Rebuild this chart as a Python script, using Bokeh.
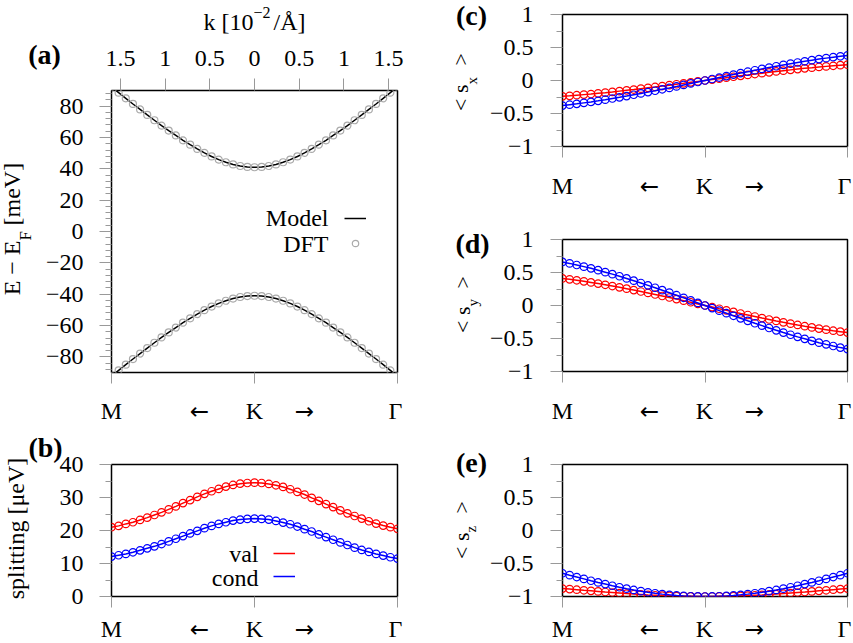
import math
from bokeh.plotting import figure
from bokeh.layouts import column
from bokeh.models import Range1d, FixedTicker, LinearAxis, Label, Legend, LegendItem, GridBox
from bokeh.embed import file_html
from bokeh.resources import INLINE

SERIF = "Liberation Serif"
TICK_COLOR = "#999999"
RED = "#ff0000"
BLUE = "#0000ff"

# ---------------- data ----------------
k = [-1.6, -1.52, -1.44, -1.36, -1.28, -1.2, -1.12, -1.04, -0.96, -0.88, -0.8,
     -0.72, -0.64, -0.56, -0.48, -0.4, -0.32, -0.24, -0.16, -0.08, 0.0,
     0.08, 0.16, 0.24, 0.32, 0.4, 0.48, 0.56, 0.64, 0.72, 0.8,
     0.88, 0.96, 1.04, 1.12, 1.2, 1.28, 1.36, 1.44, 1.52, 1.6]

# (a) bands [meV]
e_cond = [92.3, 88.6, 85.0, 81.4, 77.9, 74.4, 71.0, 67.6, 64.4, 61.3, 58.2,
          55.4, 52.7, 50.2, 47.9, 45.9, 44.2, 42.8, 41.8, 41.2, 41.0,
          41.2, 41.8, 42.8, 44.2, 45.9, 47.9, 50.2, 52.7, 55.4, 58.2,
          61.3, 64.4, 67.6, 71.0, 74.4, 77.9, 81.4, 85.0, 88.6, 92.3]
e_val = [-92.3, -88.6, -85.0, -81.4, -77.9, -74.4, -71.0, -67.6, -64.4, -61.3, -58.2,
         -55.4, -52.7, -50.2, -47.9, -45.9, -44.2, -42.8, -41.8, -41.2, -41.0,
         -41.2, -41.8, -42.8, -44.2, -45.9, -47.9, -50.2, -52.7, -55.4, -58.2,
         -61.3, -64.4, -67.6, -71.0, -74.4, -77.9, -81.4, -85.0, -88.6, -92.3]

# (b) splitting [ueV]
split_val = [21.0, 21.4, 22.0, 22.5, 23.2, 23.9, 24.7, 25.5, 26.4, 27.3, 28.3,
             29.2, 30.2, 31.1, 31.9, 32.6, 33.3, 33.8, 34.2, 34.4, 34.5,
             34.4, 34.1, 33.7, 33.2, 32.5, 31.7, 30.9, 29.9, 29.0, 28.0,
             27.1, 26.1, 25.2, 24.4, 23.6, 22.8, 22.1, 21.5, 21.0, 20.5]
split_cond = [12.1, 12.5, 12.9, 13.4, 14.0, 14.6, 15.2, 15.9, 16.7, 17.5, 18.3,
              19.1, 19.9, 20.7, 21.4, 22.0, 22.5, 23.0, 23.3, 23.5, 23.6,
              23.5, 23.3, 22.9, 22.4, 21.9, 21.2, 20.4, 19.7, 18.8, 18.0,
              17.2, 16.4, 15.6, 14.8, 14.1, 13.5, 12.9, 12.4, 11.9, 11.5]

# (c) <s_x>
sx_val = [-0.240, -0.232, -0.223, -0.214, -0.205, -0.194, -0.184, -0.173, -0.161, -0.149, -0.137,
          -0.124, -0.111, -0.098, -0.084, -0.071, -0.057, -0.043, -0.028, -0.014, 0.0,
          0.014, 0.028, 0.043, 0.057, 0.071, 0.084, 0.098, 0.111, 0.124, 0.137,
          0.149, 0.161, 0.173, 0.184, 0.194, 0.205, 0.214, 0.223, 0.232, 0.240]
sx_cond = [-0.380, -0.367, -0.354, -0.339, -0.324, -0.308, -0.291, -0.273, -0.255, -0.236, -0.216,
           -0.196, -0.176, -0.155, -0.133, -0.112, -0.090, -0.067, -0.045, -0.023, 0.0,
           0.023, 0.045, 0.067, 0.090, 0.112, 0.133, 0.155, 0.176, 0.196, 0.216,
           0.236, 0.255, 0.273, 0.291, 0.308, 0.324, 0.339, 0.354, 0.367, 0.380]

# (d) <s_y>
sy_val = [0.410, 0.396, 0.382, 0.366, 0.350, 0.332, 0.314, 0.295, 0.275, 0.255, 0.234,
          0.212, 0.190, 0.167, 0.144, 0.121, 0.097, 0.073, 0.049, 0.024, 0.0,
          -0.024, -0.049, -0.073, -0.097, -0.121, -0.144, -0.167, -0.190, -0.212, -0.234,
          -0.255, -0.275, -0.295, -0.314, -0.332, -0.350, -0.366, -0.382, -0.396, -0.410]
sy_cond = [0.660, 0.638, 0.614, 0.589, 0.563, 0.535, 0.505, 0.475, 0.443, 0.410, 0.376,
           0.341, 0.305, 0.269, 0.232, 0.194, 0.156, 0.117, 0.078, 0.039, 0.0,
           -0.039, -0.078, -0.117, -0.156, -0.194, -0.232, -0.269, -0.305, -0.341, -0.376,
           -0.410, -0.443, -0.475, -0.505, -0.535, -0.563, -0.589, -0.614, -0.638, -0.660]

# (e) <s_z>
sz_val = [-0.880, -0.888, -0.897, -0.906, -0.914, -0.923, -0.932, -0.940, -0.948, -0.956, -0.963,
          -0.969, -0.976, -0.981, -0.986, -0.990, -0.994, -0.996, -0.998, -1.000, -1.000,
          -1.000, -0.998, -0.996, -0.994, -0.990, -0.986, -0.981, -0.976, -0.969, -0.963,
          -0.956, -0.948, -0.940, -0.932, -0.923, -0.914, -0.906, -0.897, -0.888, -0.880]
sz_cond = [-0.648, -0.677, -0.705, -0.733, -0.761, -0.787, -0.812, -0.837, -0.860, -0.881, -0.901,
           -0.919, -0.936, -0.951, -0.964, -0.975, -0.984, -0.991, -0.996, -0.999, -1.000,
           -0.999, -0.996, -0.991, -0.984, -0.975, -0.964, -0.951, -0.936, -0.919, -0.901,
           -0.881, -0.860, -0.837, -0.812, -0.787, -0.761, -0.733, -0.705, -0.677, -0.648]

path_labels = ["M", "\u2190", "K", "\u2192", "\u0393"]
path_marks = [-1.6, 0.0, 1.6]

k_ticks = [-1.5, -1.0, -0.5, 0.0, 0.5, 1.0, 1.5]
k_labels = ["1.5", "1", "0.5", "0", "0.5", "1", "1.5"]


def fmt(v):
    return ("%g" % v).replace("-", "\u2212")


def make_fig(width, height, ylo, yhi, bl, br, bt, bb):
    p = figure(width=width, height=height,
               x_range=Range1d(-1.6, 1.6), y_range=Range1d(ylo, yhi),
               output_backend="svg", toolbar_location=None,
               x_axis_location=None, y_axis_location=None,
               min_border_left=bl, min_border_right=br,
               min_border_top=bt, min_border_bottom=bb)
    p.grid.grid_line_color = None
    p.outline_line_color = "black"
    p.outline_line_width = 1.5
    p.background_fill_color = "white"
    p.border_fill_color = "white"
    return p


def style_axis(ax):
    ax.axis_line_color = None
    ax.major_tick_line_color = TICK_COLOR
    ax.minor_tick_line_color = TICK_COLOR
    ax.major_tick_in = 0
    ax.minor_tick_in = 0
    ax.major_label_text_font = SERIF
    ax.major_label_text_font_size = "24px"
    ax.major_label_text_color = "black"


def add_bottom(p):
    # tick marks at M, K, Gamma (their labels are set as text on the overlay)
    ax = LinearAxis(ticker=FixedTicker(ticks=[], minor_ticks=path_marks))
    style_axis(ax)
    ax.major_tick_out = 0
    ax.minor_tick_out = 11
    p.add_layout(ax, "below")


def add_left(p, majors, minors, standoff):
    ax = LinearAxis(ticker=FixedTicker(ticks=majors, minor_ticks=minors),
                    major_label_overrides={t: fmt(t) for t in majors})
    style_axis(ax)
    ax.major_tick_out = 12
    ax.minor_tick_out = 6
    ax.major_label_standoff = standoff
    p.add_layout(ax, "left")


def add_text(p, text, x, y, size="24px", align="center", baseline="middle",
             angle=0.0, bold=False, font=SERIF):
    p.add_layout(Label(x=x, y=y, text=text, text_font=font, text_font_size=size,
                       text_align=align, text_baseline=baseline, angle=angle,
                       text_font_style="bold" if bold else "normal",
                       text_color="black"))


def add_series(p, y, color, circle_color, size=7.5, width=1.5):
    r = p.line(k, y, line_color=color, line_width=width)
    c = p.scatter(k, y, marker="circle", size=size, fill_color=None,
                  line_color=circle_color, line_width=1.2)
    return r, c


def sample_legend(p, renderers, loc, spacing):
    items = [LegendItem(label=" ", renderers=[r]) for r in renderers]
    lg = Legend(items=items, location=loc, padding=0, margin=0, spacing=spacing,
                glyph_width=22, glyph_height=16, label_width=0, label_height=16,
                label_standoff=0, label_text_font_size="1px",
                border_line_color=None, background_fill_alpha=0.0)
    p.add_layout(lg)


HALF = math.pi / 2

# ---------------- (a) ----------------
pa = make_fig(420, 440, -90, 90, 111, 23, 90, 68)
add_left(pa, list(range(-80, 81, 20)),
         [v for v in range(-88, 89, 4) if v % 20 != 0], 16)
add_bottom(pa)
top = LinearAxis(ticker=FixedTicker(ticks=k_ticks, minor_ticks=[]),
                 major_label_overrides={t: l for t, l in zip(k_ticks, k_labels)})
style_axis(top)
top.major_tick_out = 12
top.minor_tick_out = 0
top.major_label_standoff = 13
pa.add_layout(top, "above")

la1, ca1 = add_series(pa, e_cond, "black", "#aaaaaa", size=7)
add_series(pa, e_val, "black", "#aaaaaa", size=7)
sample_legend(pa, [la1, ca1], (233, 121), 9)
add_text(pa, "Model", 0.828, 8.3, align="right")
add_text(pa, "DFT", 0.828, -7.7, align="right")

# ---------------- (b) ----------------
pb = make_fig(420, 203, 0, 40, 111, 23, 24, 47)
add_left(pb, [0, 10, 20, 30, 40], [5, 15, 25, 35], 16)
add_bottom(pb)
lb1, _ = add_series(pb, split_val, RED, RED)
lb2, _ = add_series(pb, split_cond, BLUE, BLUE)
sample_legend(pb, [lb1, lb2], (162, 12), 7)
add_text(pb, "val", 0.045, 12.9, align="right")
add_text(pb, "cond", 0.045, 5.6, align="right")

# ---------------- (c), (d), (e) ----------------
s_majors = [-1.0, -0.5, 0.0, 0.5, 1.0]
s_minors = [-0.75, -0.25, 0.25, 0.75]


def spin_panel(height, bt, bb, yv, yc):
    p = make_fig(433, height, -1, 1, 142, 6, bt, bb)
    add_left(p, s_majors, s_minors, 17)
    add_bottom(p)
    add_series(p, yv, RED, RED)
    add_series(p, yc, BLUE, BLUE)
    return p


pc = spin_panel(200, 14, 54, sx_val, sx_cond)
pd = spin_panel(240, 39, 69, sy_val, sy_cond)
pe = spin_panel(203, 24, 47, sz_val, sz_cond)

# ---------------- transparent text overlay (pixel coordinates) ----------------
ov = figure(width=853, height=643, x_range=Range1d(0, 853), y_range=Range1d(643, 0),
            output_backend="svg", toolbar_location=None,
            x_axis_location=None, y_axis_location=None,
            min_border=0, min_border_left=0, min_border_right=0,
            min_border_top=0, min_border_bottom=0)
ov.grid.grid_line_color = None
ov.outline_line_color = None
ov.background_fill_alpha = 0.0
ov.border_fill_alpha = 0.0

# panel letters
for txt, x, y in [("(a)", 44, 54), ("(b)", 45, 447), ("(c)", 471, 15),
                  ("(d)", 472, 243), ("(e)", 471, 462)]:
    add_text(ov, txt, x, y, size="28px", bold=True)

# k axis title
add_text(ov, "k [10", 253, 21, align="right")
add_text(ov, "\u22122", 253, 12, size="16px", align="left")
add_text(ov, "/\u00c5]", 273, 21, align="left")

# y titles
add_text(ov, "E \u2212 E", 11, 240, align="right", angle=HALF)
add_text(ov, "F", 25, 240, size="17px", align="left", angle=HALF)
add_text(ov, "[meV]", 11, 225, align="left", angle=HALF)
add_text(ov, "splitting [\u03bceV]", 15, 528, align="center", angle=HALF)
for sub, xb, xs, yb, yt in [("x", 460, 471, 84, 65), ("y", 462, 472, 306, 288),
                            ("z", 461, 470, 532, 513)]:
    add_text(ov, "< s", xb, yb, size="22px", align="right", angle=HALF)
    add_text(ov, sub, xs, yb, size="15px", align="left", angle=HALF)
    add_text(ov, ">", xb, yt, size="22px", align="left", angle=HALF)

# path labels under each panel
left_x = [111, 199, 254, 304, 395]
right_x = [562, 649, 704, 754, 844]
for xs, yc in [(left_x, 410), (left_x, 628), (right_x, 185), (right_x, 410), (right_x, 628)]:
    for lab, x in zip(path_labels, xs):
        if lab in ("\u2190", "\u2192"):
            add_text(ov, lab, x, yc, size="23px", font="DejaVu Sans")
        else:
            add_text(ov, lab, x, yc)

left_col = column(pa, pb, spacing=0)
right_col = column(pc, pd, pe, spacing=0)
p = GridBox(children=[(left_col, 0, 0), (right_col, 0, 1), (ov, 0, 0, 1, 2)], spacing=0)

open("out.html", "w").write(file_html(p, INLINE))
